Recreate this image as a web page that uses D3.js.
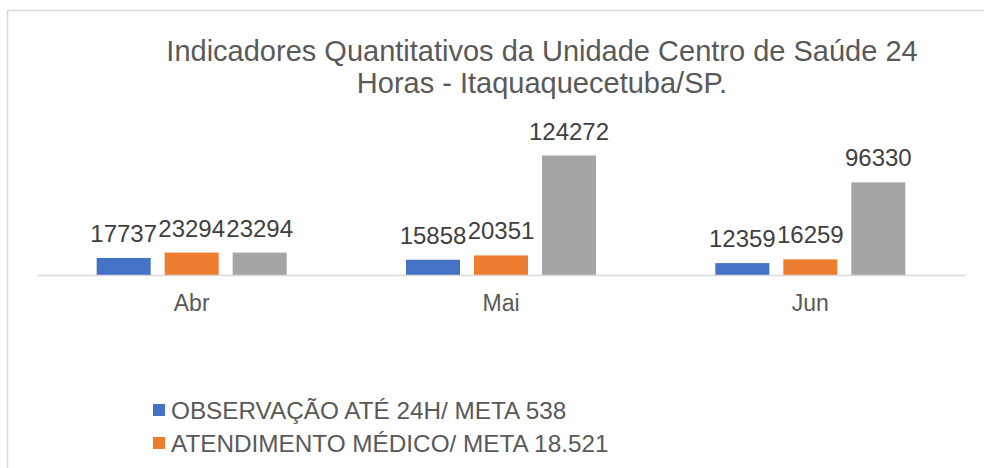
<!DOCTYPE html>
<html><head><meta charset="utf-8">
<script src="https://cdn.jsdelivr.net/npm/d3@7"></script>
<style>body{margin:0;background:#fff;} svg{display:block;font-family:"Liberation Sans",Arial,sans-serif;}</style>
</head><body>
<svg id="c" width="984" height="468"></svg>
<script>
const categories = ["Abr", "Mai", "Jun"];
const seriesNames = ["OBSERVAÇÃO ATÉ 24H/ META 538", "ATENDIMENTO MÉDICO/ META 18.521"];
const observacao = [17737, 15858, 12359];
const atendimento = [23294, 20351, 16259];
const serie3 = [23294, 124272, 96330];
const colors = ["#4472C4", "#ED7D31", "#A5A5A5"];
const titleLines = ["Indicadores Quantitativos da Unidade Centro de Saúde 24", "Horas - Itaquaquecetuba/SP."];

const series = [observacao, atendimento, serie3];
const svg = d3.select("#c");
const textColor = "#595959";

// chart border
svg.append("rect").attr("x", 7.5).attr("y", 10.5).attr("width", 1000).attr("height", 600)
  .attr("fill", "none").attr("stroke", "#d9d9d9").attr("stroke-width", 1.6);

// title
svg.append("g").selectAll("text").data(titleLines).join("text")
  .attr("x", 542).attr("y", (d, i) => 61 + i * 32)
  .attr("text-anchor", "middle").attr("fill", textColor)
  .attr("font-size", 29).text(d => d);

const left = 37, right = 965, baseline = 275;
const x = d3.scaleBand().domain(categories).range([left, right]);
const y = d3.scaleLinear().domain([0, 140000]).range([baseline, baseline - 134.6]);

const barW = 54, step = 68;
const inner = d3.scaleBand().domain(d3.range(series.length)).range([0, step * 3]);

const g = svg.append("g");
categories.forEach((c, ci) => {
  const cx = x(c) + x.bandwidth() / 2;
  series.forEach((s, si) => {
    const bx = cx - (step * 3 - (step - barW)) / 2 + inner(si);
    g.append("rect").attr("x", bx).attr("y", y(s[ci])).attr("width", barW)
      .attr("height", y(0) - y(s[ci])).attr("fill", colors[si]);
    g.append("text").attr("x", bx + barW / 2).attr("y", y(s[ci]) - 16)
      .attr("text-anchor", "middle").attr("fill", "#404040").attr("font-size", 24)
      .text(s[ci]);
  });
});

// axis
const ax = svg.append("g").attr("transform", `translate(0,${baseline})`)
  .call(d3.axisBottom(x).tickSize(0).tickPadding(20));
ax.select(".domain").attr("stroke", "#d9d9d9").attr("stroke-width", 1.6);
ax.selectAll("text").attr("font-size", 23).attr("fill", textColor).attr("font-family", "Liberation Sans, Arial, sans-serif");

// legend
const leg = svg.append("g").selectAll("g").data(seriesNames).join("g")
  .attr("transform", (d, i) => `translate(153,${410 + i * 33})`);
leg.append("rect").attr("x", 0).attr("y", -6).attr("width", 12).attr("height", 12)
  .attr("fill", (d, i) => colors[i]);
leg.append("text").attr("x", 18).attr("y", 8.5).attr("fill", textColor)
  .attr("font-size", 24.3).text(d => d);
</script>
</body></html>
